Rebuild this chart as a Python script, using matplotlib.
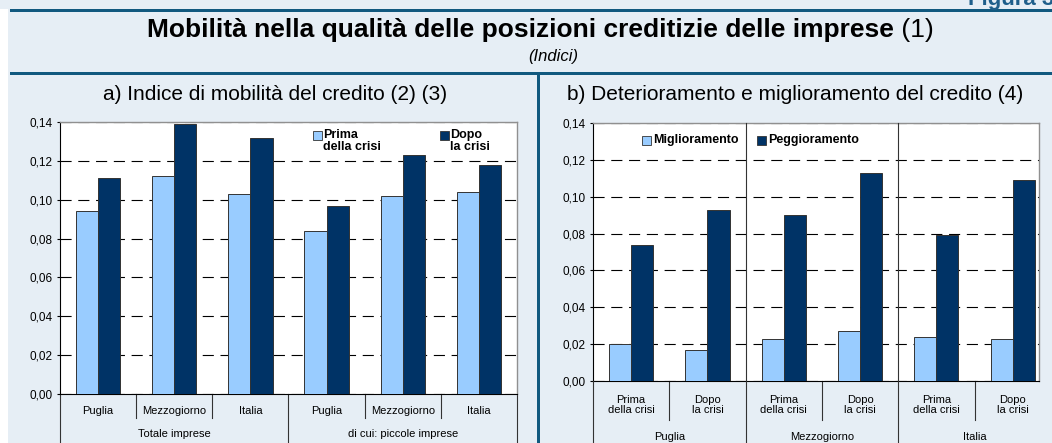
import matplotlib.pyplot as plt
import matplotlib.transforms as mtransforms
from matplotlib.patches import Rectangle
import numpy as np

plt.rcParams['font.family'] = ['Liberation Sans', 'DejaVu Sans']

# panel a) Indice di mobilita' del credito
cat_a = ['Puglia', 'Mezzogiorno', 'Italia', 'Puglia', 'Mezzogiorno', 'Italia']
group_a = ['Totale imprese', 'di cui: piccole imprese']
prima = [0.094, 0.112, 0.103, 0.084, 0.102, 0.104]
dopo = [0.111, 0.139, 0.132, 0.097, 0.123, 0.118]

# panel b) Deterioramento e miglioramento del credito
cat_b = ['Prima\ndella crisi', 'Dopo\nla crisi'] * 3
group_b = ['Puglia', 'Mezzogiorno', 'Italia']
miglior = [0.020, 0.017, 0.023, 0.027, 0.024, 0.023]
peggior = [0.074, 0.093, 0.090, 0.113, 0.079, 0.109]

yticks = [0.00, 0.02, 0.04, 0.06, 0.08, 0.10, 0.12, 0.14]

LIGHT = '#99CCFF'
DARK = '#003366'
BG = '#E6EEF5'
LINE = '#11597F'

W, H = 1052, 443
fig = plt.figure(figsize=(W / 100, H / 100), dpi=100, facecolor=BG)


def px_rect(x0, y0, x1, y1, color):
    # rectangle in figure pixels (y measured from top)
    fig.patches.append(Rectangle((x0 / W, 1 - y1 / H), (x1 - x0) / W, (y1 - y0) / H,
                                 transform=fig.transFigure, color=color, lw=0, zorder=0))


# frame decoration
px_rect(0, 9, 8, H, 'white')
px_rect(10, 9, W, 12, LINE)
px_rect(10, 72, W, 75, LINE)
px_rect(537, 75, 540, H, LINE)

# header label, cut by the top edge as in the original
fig.text(968 / W, 1 - 5 / H, 'Figura 3.4', color='#1F5F8B', fontsize=16,
         fontweight='bold', ha='left', va='baseline')

# title: bold part + regular note, centred together
t1 = fig.text(0, 1 - 37 / H, 'Mobilità nella qualità delle posizioni creditizie delle imprese',
              fontsize=19, fontweight='bold', ha='left', va='baseline')
t2 = fig.text(0, 1 - 37 / H, ' (1)', fontsize=19, ha='left', va='baseline')
r = fig.canvas.get_renderer()
w1 = t1.get_window_extent(r).width
w2 = t2.get_window_extent(r).width
x0 = 540 - (w1 + w2) / 2
t1.set_x(x0 / W)
t2.set_x((x0 + w1) / W)

fig.text(553 / W, 1 - 56 / H, '(Indici)', fontsize=12, style='italic', ha='center', va='center')
fig.text(275 / W, 1 - 94 / H, 'a) Indice di mobilità del credito (2) (3)', fontsize=15,
         ha='center', va='center')
fig.text(795 / W, 1 - 94 / H, 'b) Deterioramento e miglioramento del credito (4)', fontsize=15,
         ha='center', va='center')


def setup(ax, bottom_px, height_px):
    ax.set_facecolor('white')
    ax.set_ylim(0, 0.14)
    ax.set_yticks(yticks)
    ax.set_yticklabels([f'{v:.2f}'.replace('.', ',') for v in yticks], fontsize=8.5)
    ax.set_xticks([])
    ax.tick_params(axis='y', length=2, width=0.8, pad=3.5)
    ax.set_axisbelow(True)
    ax.yaxis.grid(True, color='black', lw=0.8, linestyle=(0, (10, 6)))
    for s in ['top', 'right']:
        ax.spines[s].set_color('#909090')
        ax.spines[s].set_linewidth(1.0)
    for s in ['left', 'bottom']:
        ax.spines[s].set_color('black')
        ax.spines[s].set_linewidth(0.8)
    trans = mtransforms.blended_transform_factory(ax.transData, ax.transAxes)
    to_ax = lambda py: (bottom_px - py) / height_px
    return trans, to_ax


w = 0.29

# ---- panel a
ax1 = fig.add_axes([60 / W, 1 - 394 / H, 457 / W, 272 / H])
trans, to_ax = setup(ax1, 394, 272)
x = np.arange(len(cat_a))
ax1.set_xlim(-0.5, len(cat_a) - 0.5)
ax1.bar(x - w / 2, prima, w, color=LIGHT, edgecolor='#333333', lw=0.7, zorder=3)
ax1.bar(x + w / 2, dopo, w, color=DARK, edgecolor='#333333', lw=0.7, zorder=3)
for i, c in enumerate(cat_a):
    ax1.text(i, to_ax(411), c, transform=trans, ha='center', va='center', fontsize=8)
for g, name in enumerate(group_a):
    ax1.text(g * 3 + 1, to_ax(434), name, transform=trans, ha='center', va='center', fontsize=8)
for b in np.arange(-0.5, len(cat_a), 1.0):
    long_line = (b + 0.5) % 3 == 0
    ax1.plot([b, b], [0, to_ax(H if long_line else 418)], transform=trans, color='#333333',
             lw=0.8, clip_on=False)

# legend: square next to the first line of each label
for px, col, lab in [(313, LIGHT, 'Prima\ndella crisi'), (440, DARK, 'Dopo\nla crisi')]:
    ax1.add_patch(Rectangle(((px - 60) / 457, to_ax(140)), 9 / 457, 9 / 272,
                            transform=ax1.transAxes, facecolor=col, edgecolor='#333333',
                            lw=0.6, zorder=5))
    ax1.text((px + 10 - 60) / 457, to_ax(129), lab, transform=ax1.transAxes,
             fontsize=9, fontweight='bold', ha='left', va='top', linespacing=1.0, zorder=5)

# ---- panel b
ax2 = fig.add_axes([593 / W, 1 - 381 / H, 446 / W, 258 / H])
trans, to_ax = setup(ax2, 381, 258)
x = np.arange(len(cat_b))
ax2.set_xlim(-0.5, 5.345)
ax2.bar(x - w / 2, miglior, w, color=LIGHT, edgecolor='#333333', lw=0.7, zorder=3)
ax2.bar(x + w / 2, peggior, w, color=DARK, edgecolor='#333333', lw=0.7, zorder=3)
for i, c in enumerate(cat_b):
    ax2.text(i, to_ax(405), c, transform=trans, ha='center', va='center', fontsize=8,
             linespacing=1.05)
for g, name in enumerate(group_b):
    ax2.text(g * 2 + 0.5, to_ax(437), name, transform=trans, ha='center', va='center', fontsize=8)
for b in np.arange(-0.5, 5, 1.0):
    if (b + 0.5) % 2 == 0:
        top = 0 if b < 0 else 1
        ax2.plot([b, b], [top, to_ax(H)], transform=trans, color='#333333', lw=0.8,
                 clip_on=False, zorder=4)
    else:
        ax2.plot([b, b], [0, to_ax(420)], transform=trans, color='#333333', lw=0.8,
                 clip_on=False)

for px, col, lab in [(642, LIGHT, 'Miglioramento'), (757, DARK, 'Peggioramento')]:
    ax2.add_patch(Rectangle(((px - 593) / 446, to_ax(145)), 9 / 446, 9 / 258,
                            transform=ax2.transAxes, facecolor=col, edgecolor='#333333',
                            lw=0.6, zorder=5))
    ax2.text((px + 11 - 593) / 446, to_ax(140.5), lab, transform=ax2.transAxes, fontsize=9,
             fontweight='bold', ha='left', va='center', zorder=5)

fig.savefig('out.png', dpi=100, facecolor=BG)
